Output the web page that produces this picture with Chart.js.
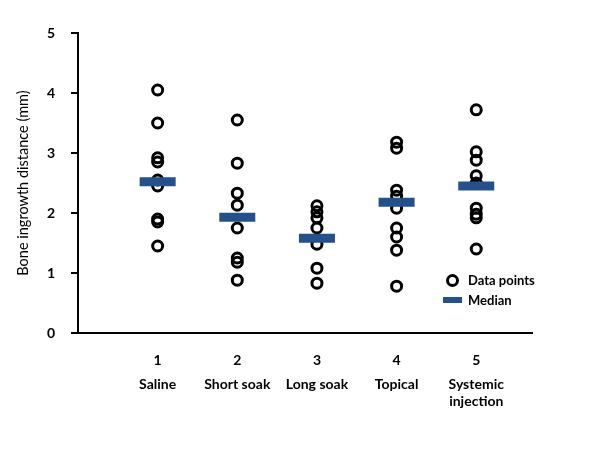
<!DOCTYPE html>
<html>
<head>
<meta charset="utf-8">
<script src="https://cdn.jsdelivr.net/npm/chart.js@4/dist/chart.umd.min.js"></script>
<style>
    body { margin: 0; background: #fff; }
    #wrap { position: relative; width: 600px; height: 450px; }
    #legend { position: absolute; left: 440px; top: 270px; font-family: Lato, sans-serif; font-weight: bold; font-size: 13px; color: #000; }
    .item { position: relative; height: 20px; line-height: 20px; padding-left: 28px; }
    .circle { position: absolute; left: 6px; top: 4px; width: 7px; height: 7px; border: 3px solid #000; border-radius: 50%; }
    .bar { position: absolute; left: 3px; top: 7px; width: 19px; height: 6px; background: #24518a; }
</style>
</head>
<body>
<div id="wrap">
    <canvas id="chart" width="600" height="450"></canvas>
    <div id="legend">
        <div class="item"><span class="circle"></span>Data points</div>
        <div class="item"><span class="bar"></span>Median</div>
    </div>
</div>
<script>
// Grupos e rótulos do eixo x
const tickNumbers = ['1', '2', '3', '4', '5'];
const categories = ['Saline', 'Short soak', 'Long soak', 'Topical', 'Systemic\ninjection'];

// Valores (mm)
const saline = [4.05, 3.5, 2.92, 2.85, 2.55, 2.45, 1.9, 1.85, 1.45];
const shortSoak = [3.55, 2.83, 2.33, 2.13, 1.75, 1.25, 1.18, 0.88];
const longSoak = [2.12, 2.02, 1.92, 1.75, 1.48, 1.08, 0.83];
const topical = [3.18, 3.08, 2.38, 2.28, 2.08, 1.75, 1.6, 1.38, 0.78];
const systemic = [3.72, 3.02, 2.88, 2.62, 2.5, 2.08, 1.98, 1.92, 1.4];
const medians = [2.52, 1.93, 1.58, 2.18, 2.45];

const yTicks = [0, 1, 2, 3, 4, 5];

const groups = [saline, shortSoak, longSoak, topical, systemic];

function buildPoints() {
    const pts = [];
    groups.forEach((g, i) => {
        g.forEach(v => pts.push({ x: i + 1, y: v }));
    });
    return pts;
}

function categoryTicks(scale) {
    scale.ticks = tickNumbers.map((t, i) => ({ value: i + 1 }));
}

const labelFont = { family: 'Lato', weight: 'bold', size: 14 };

const ctx = document.getElementById('chart').getContext('2d');
new Chart(ctx, {
    type: 'scatter',
    data: {
        datasets: [{
            label: 'Median',
            data: medians.map((m, i) => ({ x: i + 1, y: m })),
            pointStyle: 'line',
            pointRadius: 18,
            pointHoverRadius: 18,
            borderWidth: 9,
            borderColor: '#24518a',
            order: 0
        }, {
            label: 'Data points',
            data: buildPoints(),
            pointStyle: 'circle',
            pointRadius: 5,
            pointHoverRadius: 5,
            borderWidth: 3,
            borderColor: '#000',
            backgroundColor: 'rgba(0,0,0,0)',
            order: 1
        }]
    },
    options: {
        responsive: false,
        animation: false,
        events: [],
        layout: { padding: { top: 33, right: 68, bottom: 34, left: 0 } },
        plugins: {
            legend: { display: false },
            tooltip: { enabled: false }
        },
        scales: {
            x: {
                type: 'linear',
                min: 0,
                max: 5.7,
                afterBuildTicks: categoryTicks,
                afterFit: s => { s.height = 38; },
                grid: { display: false, drawTicks: false },
                border: { display: true, color: '#000', width: 2 },
                ticks: {
                    color: '#000',
                    font: labelFont,
                    padding: 19,
                    maxRotation: 0,
                    autoSkip: false,
                    callback: (v) => tickNumbers[v - 1] || ''
                }
            },
            x2: {
                type: 'linear',
                position: 'bottom',
                min: 0,
                max: 5.7,
                afterBuildTicks: categoryTicks,
                afterFit: s => { s.height = 45; },
                grid: { display: false, drawTicks: false },
                border: { display: false },
                ticks: {
                    color: '#000',
                    font: { family: 'Lato', weight: 'bold', size: 14, lineHeight: '17px' },
                    padding: 5,
                    maxRotation: 0,
                    autoSkip: false,
                    callback: (v) => categories[v - 1] ? categories[v - 1].split('\n') : ''
                }
            },
            y: {
                min: 0,
                max: 5,
                afterBuildTicks: s => { s.ticks = yTicks.map(v => ({ value: v })); },
                afterFit: s => { s.width = 78; },
                grid: { drawOnChartArea: false, drawTicks: true, tickLength: 7, color: '#000', lineWidth: 2 },
                border: { display: true, color: '#000', width: 2 },
                ticks: { color: '#000', font: labelFont, padding: 16 },
                title: {
                    display: true,
                    text: 'Bone ingrowth distance (mm)',
                    color: '#000',
                    font: { family: 'Lato', size: 14.5 },
                    padding: { top: 15, bottom: 0 }
                }
            }
        }
    }
});
</script>
</body>
</html>
